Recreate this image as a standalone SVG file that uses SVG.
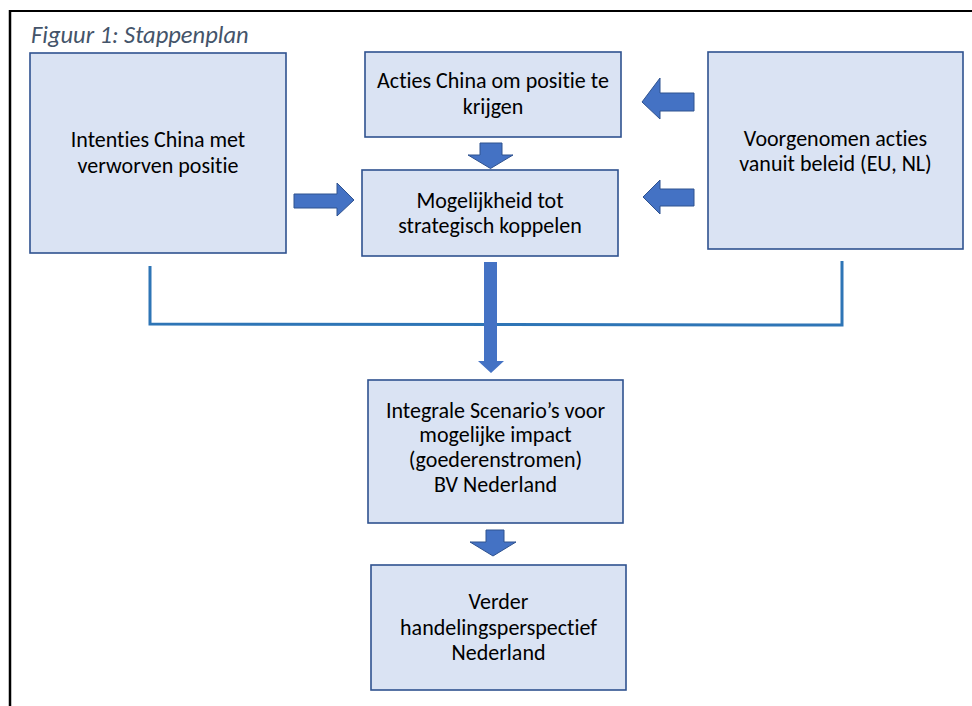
<svg xmlns="http://www.w3.org/2000/svg" width="972" height="706" viewBox="0 0 972 706">
<style>
.box{fill:#DAE3F3;stroke:#2F528F;stroke-width:1.6}
.t{font-family:Carlito,Calibri,"Liberation Sans",sans-serif;font-size:22px;fill:#000;text-anchor:middle;font-variant-ligatures:none}
.arr{fill:#4472C4;stroke:#2F528F;stroke-width:1}
.con{fill:none;stroke:#2E75B6;stroke-width:3}
.title{font-family:Carlito,Calibri,"Liberation Sans",sans-serif;font-size:24.5px;font-style:italic;fill:#44546A;font-variant-ligatures:none}
</style>
<rect width="972" height="706" fill="#fff"/>
<g id="frame">
<line x1="10" y1="11" x2="972" y2="11" stroke="#000" stroke-width="2"/>
<line x1="10" y1="10" x2="10" y2="706" stroke="#000" stroke-width="2.5"/>
</g>
<text class="title" x="31" y="43">Figuur 1: Stappenplan</text>
<g id="connectors">
<polyline class="con" points="150,266 150,324 842,325 842,261"/>
<path class="arr" d="M480,143 H502 V155 H513 L490.5,168.5 L468,155 H480 Z"/>
<path class="arr" d="M294,194 H337 V183 L354,200 L337,216 V208 H294 Z"/>
<path class="arr" d="M694,93 H660 V78 L642,102 L660,119 V111 H694 Z"/>
<path class="arr" d="M694,189 H660 V180 L643,197 L660,214 V206 H694 Z"/>
<path fill="#4472C4" d="M484,262 H497 V361 H504 L491,373 L478,361 H484 Z"/>
<path class="arr" d="M486,530 H504 V542 H516 L493,556 L470,542 H486 Z"/>
</g>
<g id="intenties">
<rect class="box" x="30" y="53" width="256" height="200"/>
<text class="t" x="158" y="147">Intenties China met</text>
<text class="t" x="158" y="173">verworven positie</text>
</g>
<g id="acties">
<rect class="box" x="365" y="52" width="256" height="85"/>
<text class="t" x="493" y="88">Acties China om positie te</text>
<text class="t" x="493" y="114">krijgen</text>
</g>
<g id="mogelijkheid">
<rect class="box" x="362" y="170" width="256" height="86"/>
<text class="t" x="490" y="208">Mogelijkheid tot</text>
<text class="t" x="490" y="233">strategisch koppelen</text>
</g>
<g id="voorgenomen">
<rect class="box" x="708" y="52" width="255" height="197"/>
<text class="t" x="835.5" y="146">Voorgenomen acties</text>
<text class="t" x="835.5" y="171">vanuit beleid (EU, NL)</text>
</g>
<g id="scenario">
<rect class="box" x="368" y="380" width="255" height="143"/>
<text class="t" x="495.5" y="417.5">Integrale Scenario’s voor</text>
<text class="t" x="495.5" y="442">mogelijke impact</text>
<text class="t" x="495.5" y="467">(goederenstromen)</text>
<text class="t" x="495.5" y="492">BV Nederland</text>
</g>
<g id="verder">
<rect class="box" x="371" y="565" width="255" height="125"/>
<text class="t" x="498.5" y="609">Verder</text>
<text class="t" x="498.5" y="634.5">handelingsperspectief</text>
<text class="t" x="498.5" y="660">Nederland</text>
</g>
</svg>
